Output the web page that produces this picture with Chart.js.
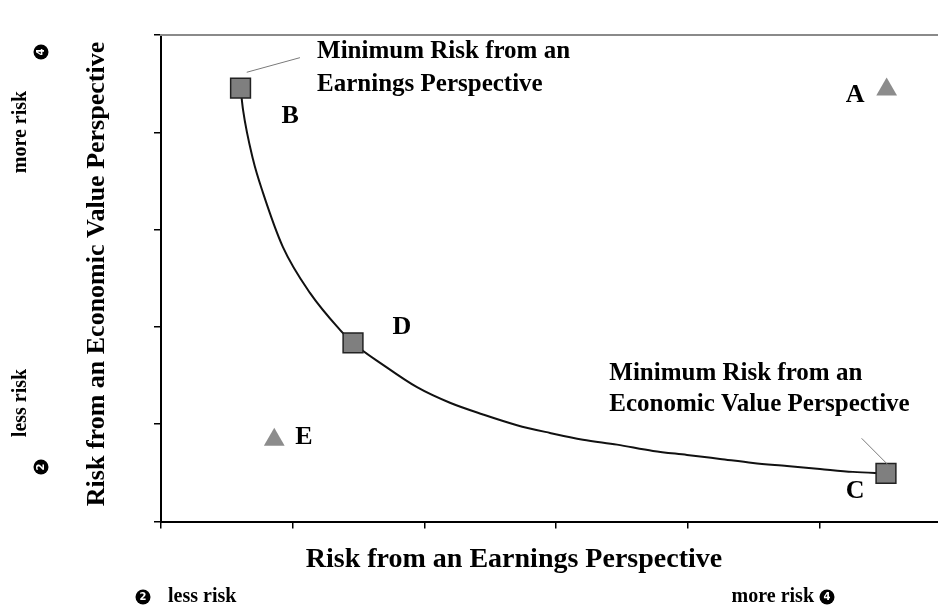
<!DOCTYPE html>
<html>
<head>
<meta charset="utf-8">
<script src="https://cdn.jsdelivr.net/npm/chart.js@4.4.1/dist/chart.umd.min.js"></script>
<style>
  html, body { margin: 0; padding: 0; background: #fff; }
  #wrap { width: 938px; height: 610px; }
</style>
</head>
<body>
<div id="wrap"><canvas id="riskChart" width="938" height="610"></canvas></div>
<script>
// Frontier curve (x = earnings risk, y = economic value risk)
const curveX = [0.604, 0.623, 0.699, 0.774, 0.926, 1.131, 1.359, 1.458, 1.686, 1.944, 2.194, 2.445,
                2.703, 2.954, 3.204, 3.463, 3.736, 3.994, 4.245, 4.495, 4.753, 5.004, 5.254, 5.505];
const curveY = [4.455, 4.23, 3.72, 3.38, 2.82, 2.35, 1.97, 1.835, 1.61, 1.38, 1.22, 1.10,
                0.99, 0.91, 0.84, 0.79, 0.725, 0.684, 0.643, 0.602, 0.571, 0.54, 0.51, 0.494];

// Portfolios on the frontier (squares)
const frontierNames = ['B', 'D', 'C'];
const frontierX = [0.604, 1.458, 5.505];
const frontierY = [4.455, 1.835, 0.494];

// Portfolios off the frontier (triangles)
const otherNames = ['A', 'E'];
const otherX = [5.51, 0.86];
const otherY = [4.44, 0.84];

// Axis ticks (no labels shown)
const xTicks = [0, 1, 2, 3, 4, 5];
const yTicks = [0, 1, 2, 3, 4, 5];

const xTitle = 'Risk from an Earnings Perspective';
const yTitle = 'Risk from an Economic Value Perspective';

const serif = '"Liberation Serif", "Times New Roman", serif';

// Function to turn two arrays into {x, y} points
function toPoints(xs, ys) {
    return xs.map((x, i) => ({ x: x, y: ys[i] }));
}

// Draw letters, notes and axis captions on top of the chart
const riskText = {
    id: 'riskText',
    afterDraw(chart) {
        const ctx = chart.ctx;
        const xs = chart.scales.x;
        const ys = chart.scales.y;
        const area = chart.chartArea;
        const px = v => xs.getPixelForValue(v);
        const py = v => ys.getPixelForValue(v);

        ctx.save();

        // top border of the plot
        ctx.strokeStyle = '#8a8a8a';
        ctx.lineWidth = 2;
        ctx.beginPath();
        ctx.moveTo(area.left - 1, area.top);
        ctx.lineTo(chart.width, area.top);
        ctx.stroke();

        // leader lines to the notes
        ctx.strokeStyle = '#7a7a7a';
        ctx.lineWidth = 1;
        ctx.beginPath();
        ctx.moveTo(px(0.651), py(4.617));
        ctx.lineTo(px(1.055), py(4.767));
        ctx.moveTo(px(5.32), py(0.855));
        ctx.lineTo(px(5.535), py(0.563));
        ctx.stroke();

        ctx.fillStyle = '#000';
        ctx.textBaseline = 'middle';

        // point letters
        ctx.font = 'bold 26px ' + serif;
        ctx.textAlign = 'center';
        const letters = [['B', 0.98, 4.16], ['D', 1.83, 2.0], ['C', 5.27, 0.31], ['A', 5.27, 4.38], ['E', 1.086, 0.87]];
        letters.forEach(l => ctx.fillText(l[0], px(l[1]), py(l[2])));

        // notes
        ctx.font = 'bold 25px ' + serif;
        ctx.textAlign = 'left';
        ctx.fillText('Minimum Risk from an', px(1.185), py(4.83));
        ctx.fillText('Earnings Perspective', px(1.185), py(4.486));
        ctx.fillText('Minimum Risk from an', px(3.404), py(1.523));
        ctx.fillText('Economic Value Perspective', px(3.404), py(1.197));

        // axis titles
        ctx.font = 'bold 28px ' + serif;
        ctx.textAlign = 'center';
        ctx.fillText(xTitle, 514, 560);
        ctx.font = 'bold 26px ' + serif;
        ctx.save();
        ctx.translate(97, 274);
        ctx.rotate(-Math.PI / 2);
        ctx.fillText(yTitle, 0, 0);
        ctx.restore();

        // less / more risk hints
        const badge = (x, y, num, rot) => {
            ctx.save();
            ctx.translate(x, y);
            ctx.rotate(rot);
            ctx.fillStyle = '#000';
            ctx.beginPath();
            ctx.arc(0, 0, 7.5, 0, Math.PI * 2);
            ctx.fill();
            ctx.fillStyle = '#fff';
            ctx.font = 'bold 10px "DejaVu Sans", sans-serif';
            ctx.textAlign = 'center';
            ctx.fillText(num, 0, 0.5);
            ctx.restore();
        };
        ctx.font = 'bold 20px ' + serif;
        ctx.textAlign = 'left';
        ctx.fillText('less risk', 168, 597);
        ctx.textAlign = 'right';
        ctx.fillText('more risk', 814, 597);
        badge(143, 597, '2', 0);
        badge(827, 597, '4', 0);

        ctx.save();
        ctx.translate(21, 132);
        ctx.rotate(-Math.PI / 2);
        ctx.textAlign = 'center';
        ctx.fillText('more risk', 0, 0);
        ctx.restore();
        ctx.save();
        ctx.translate(21, 403);
        ctx.rotate(-Math.PI / 2);
        ctx.textAlign = 'center';
        ctx.fillText('less risk', 0, 0);
        ctx.restore();
        badge(41, 52, '4', -Math.PI / 2);
        badge(41, 467, '2', -Math.PI / 2);

        ctx.restore();
    }
};

const ctx = document.getElementById('riskChart').getContext('2d');
window.myChart = new Chart(ctx, {
    type: 'scatter',
    data: {
        datasets: [{
            label: 'Frontier',
            data: toPoints(curveX, curveY),
            showLine: true,
            borderColor: '#111',
            borderWidth: 2,
            pointRadius: 0,
            cubicInterpolationMode: 'monotone',
            order: 3
        }, {
            label: 'Frontier portfolios',
            data: toPoints(frontierX, frontierY),
            pointStyle: 'rect',
            pointRadius: 14,
            backgroundColor: '#7f7f7f',
            borderColor: '#222',
            borderWidth: 1.5,
            order: 1
        }, {
            label: 'Other portfolios',
            data: toPoints(otherX, otherY),
            pointStyle: 'triangle',
            pointRadius: 12,
            backgroundColor: '#8c8c8c',
            borderWidth: 0,
            order: 2
        }]
    },
    options: {
        responsive: false,
        animation: false,
        layout: { autoPadding: false, padding: { top: 35, left: 0, right: 0, bottom: 0 } },
        plugins: {
            legend: { display: false },
            tooltip: { enabled: false }
        },
        scales: {
            x: {
                type: 'linear',
                min: 0,
                max: 5.9,
                afterBuildTicks: s => { s.ticks = xTicks.map(v => ({ value: v })); },
                afterFit: s => { s.height = 88.5; },
                ticks: { display: false },
                grid: { drawOnChartArea: false, tickLength: 7, color: '#000', lineWidth: 1.5 },
                border: { color: '#000', width: 2 }
            },
            y: {
                type: 'linear',
                min: 0,
                max: 5,
                afterBuildTicks: s => { s.ticks = yTicks.map(v => ({ value: v })); },
                afterFit: s => { s.width = 161; },
                ticks: { display: false },
                grid: { drawOnChartArea: false, tickLength: 7, color: '#000', lineWidth: 1.5 },
                border: { color: '#000', width: 2 }
            }
        }
    },
    plugins: [riskText]
});
</script>
</body>
</html>
